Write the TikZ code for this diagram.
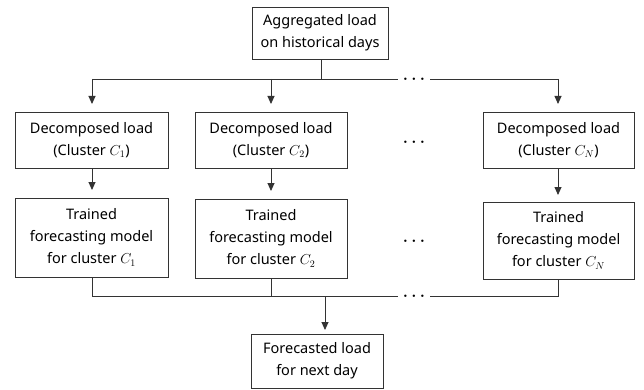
\documentclass[tikz,border=0pt]{standalone}
\usepackage{fontspec}
\setmainfont{Noto Sans}
\usetikzlibrary{arrows.meta}
\newcommand{\threedots}{{\fontsize{5}{5}\selectfont$\bullet$\kern4.9pt$\bullet$\kern4.9pt$\bullet$}}
\begin{document}
\begin{tikzpicture}[x=1pt,y=-1pt,
  box/.style={draw=black!80,line width=0.9pt,align=center,inner sep=0pt,
    font=\fontsize{14.5}{22}\selectfont},
  wire/.style={draw=black!80,line width=0.9pt},
  arr/.style={wire,-{Triangle[length=8pt,width=7pt]}},
  dotsnode/.style={inner sep=0pt}]
\useasboundingbox (0,0) rectangle (644,390);
% nodes
\node[box,minimum width=136,minimum height=52] (top) at (320,33) {Aggregated load\\on historical days};
\node[box,minimum width=153,minimum height=56] (d1) at (91.5,140) {Decomposed load\\(Cluster $C_1$)};
\node[box,minimum width=152,minimum height=56] (d2) at (271,140) {Decomposed load\\(Cluster $C_2$)};
\node[box,minimum width=151,minimum height=56] (dn) at (558.5,140) {Decomposed load\\(Cluster $C_N$)};
\node[box,minimum width=153,minimum height=79] (t1) at (91.5,237.5) {Trained\\forecasting model\\for cluster $C_1$};
\node[box,minimum width=152,minimum height=79] (t2) at (271,238.5) {Trained\\forecasting model\\for cluster $C_2$};
\node[box,minimum width=151,minimum height=77] (tn) at (558.5,240.5) {Trained\\forecasting model\\for cluster $C_N$};
\node[box,minimum width=132,minimum height=54] (out) at (317,361) {Forecasted load\\for next day};
\node[dotsnode] (m1) at (414,142) {\threedots};
\node[dotsnode] (m2) at (414,241) {\threedots};
% top distribution
\coordinate (ja) at (321,79);
\coordinate (jl) at (92,79);
\coordinate (jm) at (271,79);
\coordinate (jr) at (558,79);
\coordinate (ga) at (398,79);
\coordinate (gb) at (430,79);
\node[dotsnode] (g1) at (414,79) {\threedots};
\draw[wire] (top.south -| ja) -- (ja);
\draw[wire] (jl) -- (ga);
\draw[wire] (gb) -- (jr);
\coordinate (e1) at (92,104);
\coordinate (e2) at (271,104);
\coordinate (e3) at (558,104);
\draw[arr] (jl) -- (e1);
\draw[arr] (jm) -- (e2);
\draw[arr] (jr) -- (e3);
% middle arrows
\coordinate (f1) at (92,190);
\coordinate (f2) at (271,191);
\coordinate (f3) at (558,195);
\draw[arr] (d1.south -| jl) -- (f1);
\draw[arr] (d2.south -| jm) -- (f2);
\draw[arr] (dn.south -| jr) -- (f3);
% bottom collection
\coordinate (kl) at (92,296);
\coordinate (km) at (271,296);
\coordinate (kr) at (558,296);
\coordinate (ka) at (398,296);
\coordinate (kb) at (430,296);
\coordinate (ko) at (325,296);
\node[dotsnode] (g2) at (414,296) {\threedots};
\draw[wire] (t1.south -| kl) -- (kl) -- (ka);
\draw[wire] (t2.south -| km) -- (km);
\draw[wire] (tn.south -| kr) -- (kr) -- (kb);
\coordinate (oe) at (325,330);
\draw[arr] (ko) -- (oe);
\end{tikzpicture}
\end{document}
